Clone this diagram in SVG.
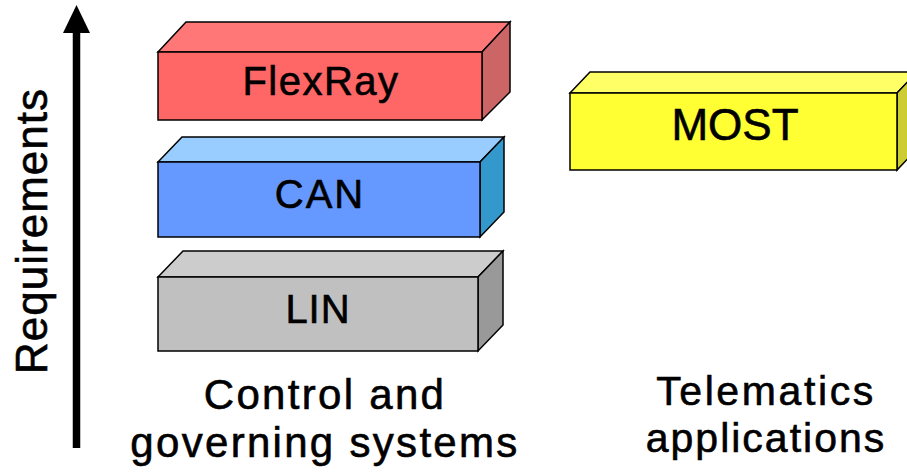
<svg xmlns="http://www.w3.org/2000/svg" width="907" height="472" viewBox="0 0 907 472">
<style>
  .e { stroke: #000; stroke-width: 1.5; stroke-linejoin: miter; }
  .lbl { font-family: "Liberation Sans", Arial, sans-serif; fill: #000; stroke: #000; stroke-width: 0.6; text-anchor: middle; }
</style>
<rect width="907" height="472" fill="#fff"/>
<g id="axis">
  <line x1="76.5" y1="448" x2="76.5" y2="30" stroke="#000" stroke-width="7.5"/>
  <polygon points="76.5,5 63,33 90,33" fill="#000"/>
  <text class="lbl" font-size="44" letter-spacing="1" transform="translate(47,231) rotate(-90)">Requirements</text>
</g>
<g id="flexray">
  <polygon class="e" points="158,52 186,22 510,22 482,52" fill="#FF7777"/>
  <polygon class="e" points="482,52 510,22 510,92 482,120" fill="#CC6666"/>
  <rect class="e" x="158" y="52" width="324" height="68" fill="#FF6666"/>
  <text class="lbl" x="321" y="95" font-size="40" letter-spacing="1.5">FlexRay</text>
</g>
<g id="can">
  <polygon class="e" points="158,162 182,137 504,137 480,162" fill="#99CCFF"/>
  <polygon class="e" points="480,162 504,137 504,212 480,237" fill="#3399CC"/>
  <rect class="e" x="158" y="162" width="322" height="75" fill="#6699FF"/>
  <text class="lbl" x="320" y="208" font-size="40" letter-spacing="2">CAN</text>
</g>
<g id="lin">
  <polygon class="e" points="158,277 183,251 503,251 478,277" fill="#CCCCCC"/>
  <polygon class="e" points="478,277 503,251 503,325 478,351" fill="#999999"/>
  <rect class="e" x="158" y="277" width="320" height="74" fill="#C0C0C0"/>
  <text class="lbl" x="318" y="323" font-size="40" letter-spacing="1">LIN</text>
</g>
<g id="most">
  <polygon class="e" points="570,93 590,72 917,72 897,93" fill="#FFFF66"/>
  <polygon class="e" points="897,93 917,72 917,149 897,170" fill="#CCCC33"/>
  <rect class="e" x="570" y="93" width="327" height="77" fill="#FFFF33"/>
  <text class="lbl" x="735" y="140" font-size="44">MOST</text>
</g>
<g id="captions">
  <text class="lbl" x="325" y="409" font-size="42" letter-spacing="2.3">Control and</text>
  <text class="lbl" x="325" y="457" font-size="42" letter-spacing="2.3">governing systems</text>
  <text class="lbl" x="766" y="405" font-size="41" letter-spacing="2.6">Telematics</text>
  <text class="lbl" x="766" y="452" font-size="41" letter-spacing="2">applications</text>
</g>
<g id="connectors"></g>
</svg>
